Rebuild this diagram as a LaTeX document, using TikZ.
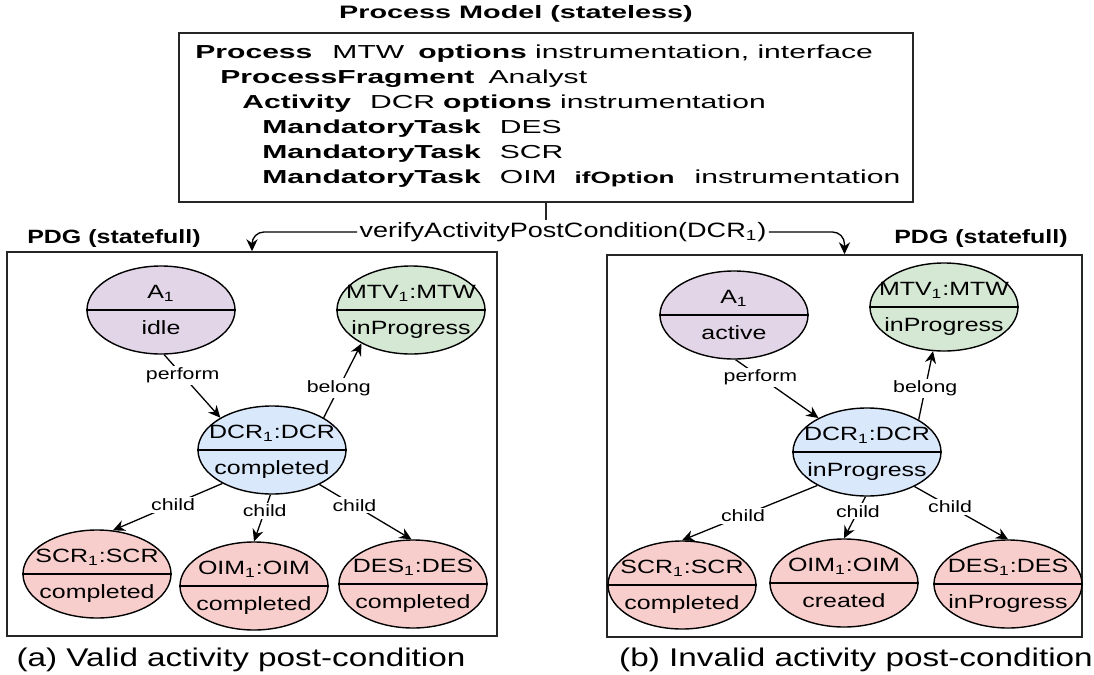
\documentclass[tikz,border=0pt]{standalone}
\usepackage{fontspec}
\setmainfont[FakeStretch=1.3]{Liberation Sans}
\newfontfamily\widesans[FakeStretch=1.6]{Liberation Sans}
\usetikzlibrary{shapes.geometric,arrows.meta}
\definecolor{actfill}{HTML}{E1D5E7}
\definecolor{procfill}{HTML}{D5E8D4}
\definecolor{dcrfill}{HTML}{DAE8FC}
\definecolor{taskfill}{HTML}{F8CECC}
\tikzset{
  every node/.style={font=\fontsize{9.6}{11}\selectfont},
  state/.style={
    ellipse,
    draw=black,
    line width=0.7pt,
    minimum width=74pt,
    minimum height=44pt,
    inner sep=0pt
  },
  divider/.style={draw=black,line width=0.7pt},
  link/.style={draw=black,line width=0.65pt,-{Stealth[length=6pt,width=5.6pt]}},
  elabel/.style={fill=white,inner sep=1pt,font=\fontsize{8.2}{9}\selectfont},
  panel/.style={draw=black!85,line width=0.75pt},
  modelline/.style={anchor=base west,inner sep=0pt,font=\widesans\fontsize{9.4}{11}\selectfont},
  pdgtitle/.style={font=\bfseries\fontsize{9.6}{11}\selectfont},
  caption/.style={font=\fontsize{12.8}{15}\selectfont}
}
\newcommand{\stnode}[6]{%
  \node[state,fill=#4] (#1) at (#2,#3) {};
  \draw[divider] (#1.west) -- (#1.east);
  \node[anchor=base] (#1-top) at (#2,#3-12) {#5};
  \node[anchor=base] (#1-low) at (#2,#3+24) {#6};
}

\begin{document}
\begin{tikzpicture}[x=0.5pt,y=-0.5pt]
  \useasboundingbox (0,0) rectangle (1094,675);

  % Modelo de processo (sem estado).
  \node[font=\widesans\bfseries\fontsize{9}{11}\selectfont] (mtitle) at (516,14)
    {Process Model (stateless)};
  \node[panel,minimum width=367pt,minimum height=84.5pt] (model) at (546,117.5) {};
  \node[modelline] (ln1) at (195,58)
    {\textbf{Process}\hspace{10pt}MTW\hspace{7pt}\textbf{options} instrumentation, interface};
  \node[modelline] (ln2) at (220,83) {\textbf{ProcessFragment}\hspace{7pt}Analyst};
  \node[modelline] (ln3) at (242,108)
    {\textbf{Activity}\hspace{9.5pt}DCR\hspace{4pt}\textbf{options} instrumentation};
  \node[modelline] (ln4) at (262,133) {\textbf{MandatoryTask}\hspace{9.5pt}DES};
  \node[modelline] (ln5) at (262,158) {\textbf{MandatoryTask}\hspace{9.5pt}SCR};
  \node[modelline] (ln6) at (262,183)
    {\textbf{MandatoryTask}\hspace{9.5pt}OIM\hspace{9pt}{\fontsize{8.15}{10}\selectfont\textbf{ifOption}}\hspace{10pt}instrumentation};

  % Verificacao da pos-condicao nos dois grafos.
  \node[inner sep=1pt,font=\fontsize{10.4}{12}\selectfont] (verify) at (563,232)
    {verifyActivityPostCondition(DCR\textsubscript{1})};
  \node[pdgtitle] (ltitle) at (114,239) {PDG (statefull)};
  \node[pdgtitle] (rtitle) at (981,239) {PDG (statefull)};
  \node[panel,minimum width=245pt,minimum height=192pt] (lbox) at (252,444) {};
  \node[panel,minimum width=237.5pt,minimum height=191pt] (rbox) at (844.5,446) {};

  \draw[panel] (model.south) -- (model.south |- verify.north);
  \draw[link,rounded corners=6pt] (verify.west) -| (lbox.north);
  \draw[link,rounded corners=6pt] (verify.east) -| (rbox.north);

  % Grafo (a): pos-condicao valida.
  \stnode{la}{161}{310}{actfill}{A\textsubscript{1}}{idle}
  \stnode{lm}{411}{310}{procfill}{MTV\textsubscript{1}:MTW}{inProgress}
  \stnode{ld}{272}{450}{dcrfill}{DCR\textsubscript{1}:DCR}{completed}
  \stnode{ls}{97}{574}{taskfill}{SCR\textsubscript{1}:SCR}{completed}
  \stnode{lo}{254}{586}{taskfill}{OIM\textsubscript{1}:OIM}{completed}
  \stnode{le}{413}{584}{taskfill}{DES\textsubscript{1}:DES}{completed}

  \draw[link] (la.-86) -- node[elabel,pos=.33] (lp) {perform} (ld.148);
  \draw[link] (ld.32) -- node[elabel,pos=.4] (lb) {belong} (lm.214);
  \draw[link] (ld.214) -- node[elabel,pos=.45] (lc1) {child} (ls.70);
  \draw[link] (ld.-92) -- node[elabel,pos=.35] (lc2) {child} (lo.90);
  \draw[link] (ld.-36) -- node[elabel,pos=.38] (lc3) {child} (le.92);

  % Grafo (b): pos-condicao invalida.
  \stnode{ra}{734}{315}{actfill}{A\textsubscript{1}}{active}
  \stnode{rm}{944}{307}{procfill}{MTV\textsubscript{1}:MTW}{inProgress}
  \stnode{rd}{867}{452}{dcrfill}{DCR\textsubscript{1}:DCR}{inProgress}
  \stnode{rs}{682}{585}{taskfill}{SCR\textsubscript{1}:SCR}{completed}
  \stnode{ro}{844}{583}{taskfill}{OIM\textsubscript{1}:OIM}{created}
  \stnode{re}{1008}{584}{taskfill}{DES\textsubscript{1}:DES}{inProgress}

  \draw[link] (ra.-88) -- node[elabel,pos=.3] (rp) {perform} (rd.145);
  \draw[link] (rd.32) -- node[elabel,pos=.46] (rb) {belong} (rm.256);
  \draw[link] (rd.214) -- node[elabel,pos=.55] (rc1) {child} (rs.90);
  \draw[link] (rd.-92) -- node[elabel,pos=.35] (rc2) {child} (ro.90);
  \draw[link] (rd.-36) -- node[elabel,pos=.38] (rc3) {child} (re.90);

  % Legendas.
  \node[caption] (capa) at (241,660) {(a) Valid activity post-condition};
  \node[caption] (capb) at (856,660) {(b) Invalid activity post-condition};
\end{tikzpicture}
\end{document}
